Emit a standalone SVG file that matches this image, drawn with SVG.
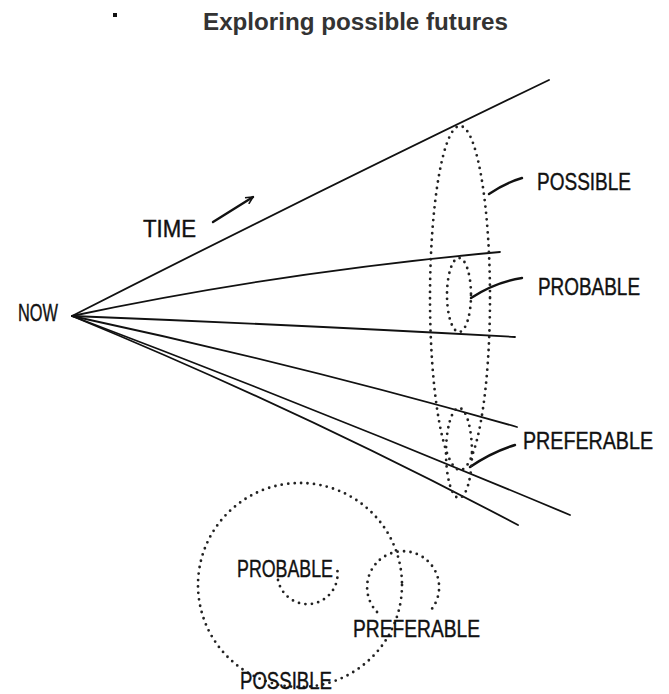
<svg xmlns="http://www.w3.org/2000/svg" width="669" height="694" viewBox="0 0 669 694">
<style>
.title{font-family:"Liberation Sans","Open Sans",sans-serif;font-weight:bold;font-size:23px;fill:#333}
.hand{font-family:"Liberation Sans","DejaVu Sans",sans-serif;fill:#111;font-size:24px;stroke:#111;stroke-width:0.4}
.ray{fill:none;stroke:#111;stroke-width:1.8;stroke-linecap:round}
.dot{fill:none;stroke:#222;stroke-width:2.8;stroke-linecap:round;stroke-dasharray:0 6.5}
.lead{fill:none;stroke:#111;stroke-width:2.4;stroke-linecap:round}
</style>
<defs>
<marker id="ah" viewBox="0 0 10 10" refX="9" refY="5" markerWidth="9" markerHeight="9" orient="auto" markerUnits="userSpaceOnUse">
<path d="M1,1 L9,5 L1,9" fill="none" stroke="#111" stroke-width="1.8"/>
</marker>
</defs>
<rect width="669" height="694" fill="#fff"/>
<g id="title">
<rect x="113" y="13" width="4" height="4" fill="#111"/>
<text class="title" x="203" y="30" textLength="305" lengthAdjust="spacingAndGlyphs">Exploring possible futures</text>
</g>
<g id="connectors">
<path class="ray" d="M72,316 Q300,200 549,80"/>
<path class="ray" d="M72,316 Q280,272 500,252"/>
<path class="ray" d="M72,316 Q300,325 515,337"/>
<path class="ray" d="M72,316 Q300,365 517,427"/>
<path class="ray" d="M72,316 Q320,410 570,515"/>
<path class="ray" d="M72,316 Q300,410 518,525"/>
<path class="lead" d="M213,222 L253,197" marker-end="url(#ah)"/>
<path class="lead" d="M489,194 Q505,183 522,178"/>
<path class="lead" d="M471,298 Q495,282 522,278"/>
<path class="lead" d="M470,467 Q492,452 515,445"/>
</g>
<g id="now"><text class="hand" x="18" y="321" textLength="40" lengthAdjust="spacingAndGlyphs" font-size="20">NOW</text></g>
<g id="time"><text class="hand" x="143" y="237" textLength="53" lengthAdjust="spacingAndGlyphs" font-size="20">TIME</text></g>
<g id="possible-ellipse"><ellipse class="dot" cx="460" cy="298" rx="30" ry="172"/></g>
<g id="probable-ellipse"><ellipse class="dot" cx="459" cy="295" rx="12" ry="37"/></g>
<g id="preferable-ellipse"><ellipse class="dot" cx="459" cy="453" rx="13" ry="45"/></g>
<g id="possible-label"><text class="hand" x="537" y="190" textLength="94" lengthAdjust="spacingAndGlyphs">POSSIBLE</text></g>
<g id="probable-label"><text class="hand" x="538" y="295" textLength="102" lengthAdjust="spacingAndGlyphs">PROBABLE</text></g>
<g id="preferable-label"><text class="hand" x="523" y="449" textLength="130" lengthAdjust="spacingAndGlyphs" font-size="20">PREFERABLE</text></g>
<g id="venn-possible">
<circle class="dot" cx="300" cy="585" r="102"/>
<text class="hand" x="240" y="689" textLength="92" lengthAdjust="spacingAndGlyphs">POSSIBLE</text>
</g>
<g id="venn-probable">
<path class="dot" d="M278,580 A30,30 0 1 0 337,568"/>
<text class="hand" x="237" y="577" textLength="96" lengthAdjust="spacingAndGlyphs" font-size="20">PROBABLE</text>
</g>
<g id="venn-preferable">
<path class="dot" d="M377,612 A36,36 0 1 1 431,610"/>
<text class="hand" x="353" y="637" textLength="127" lengthAdjust="spacingAndGlyphs" font-size="21">PREFERABLE</text>
</g>
</svg>
